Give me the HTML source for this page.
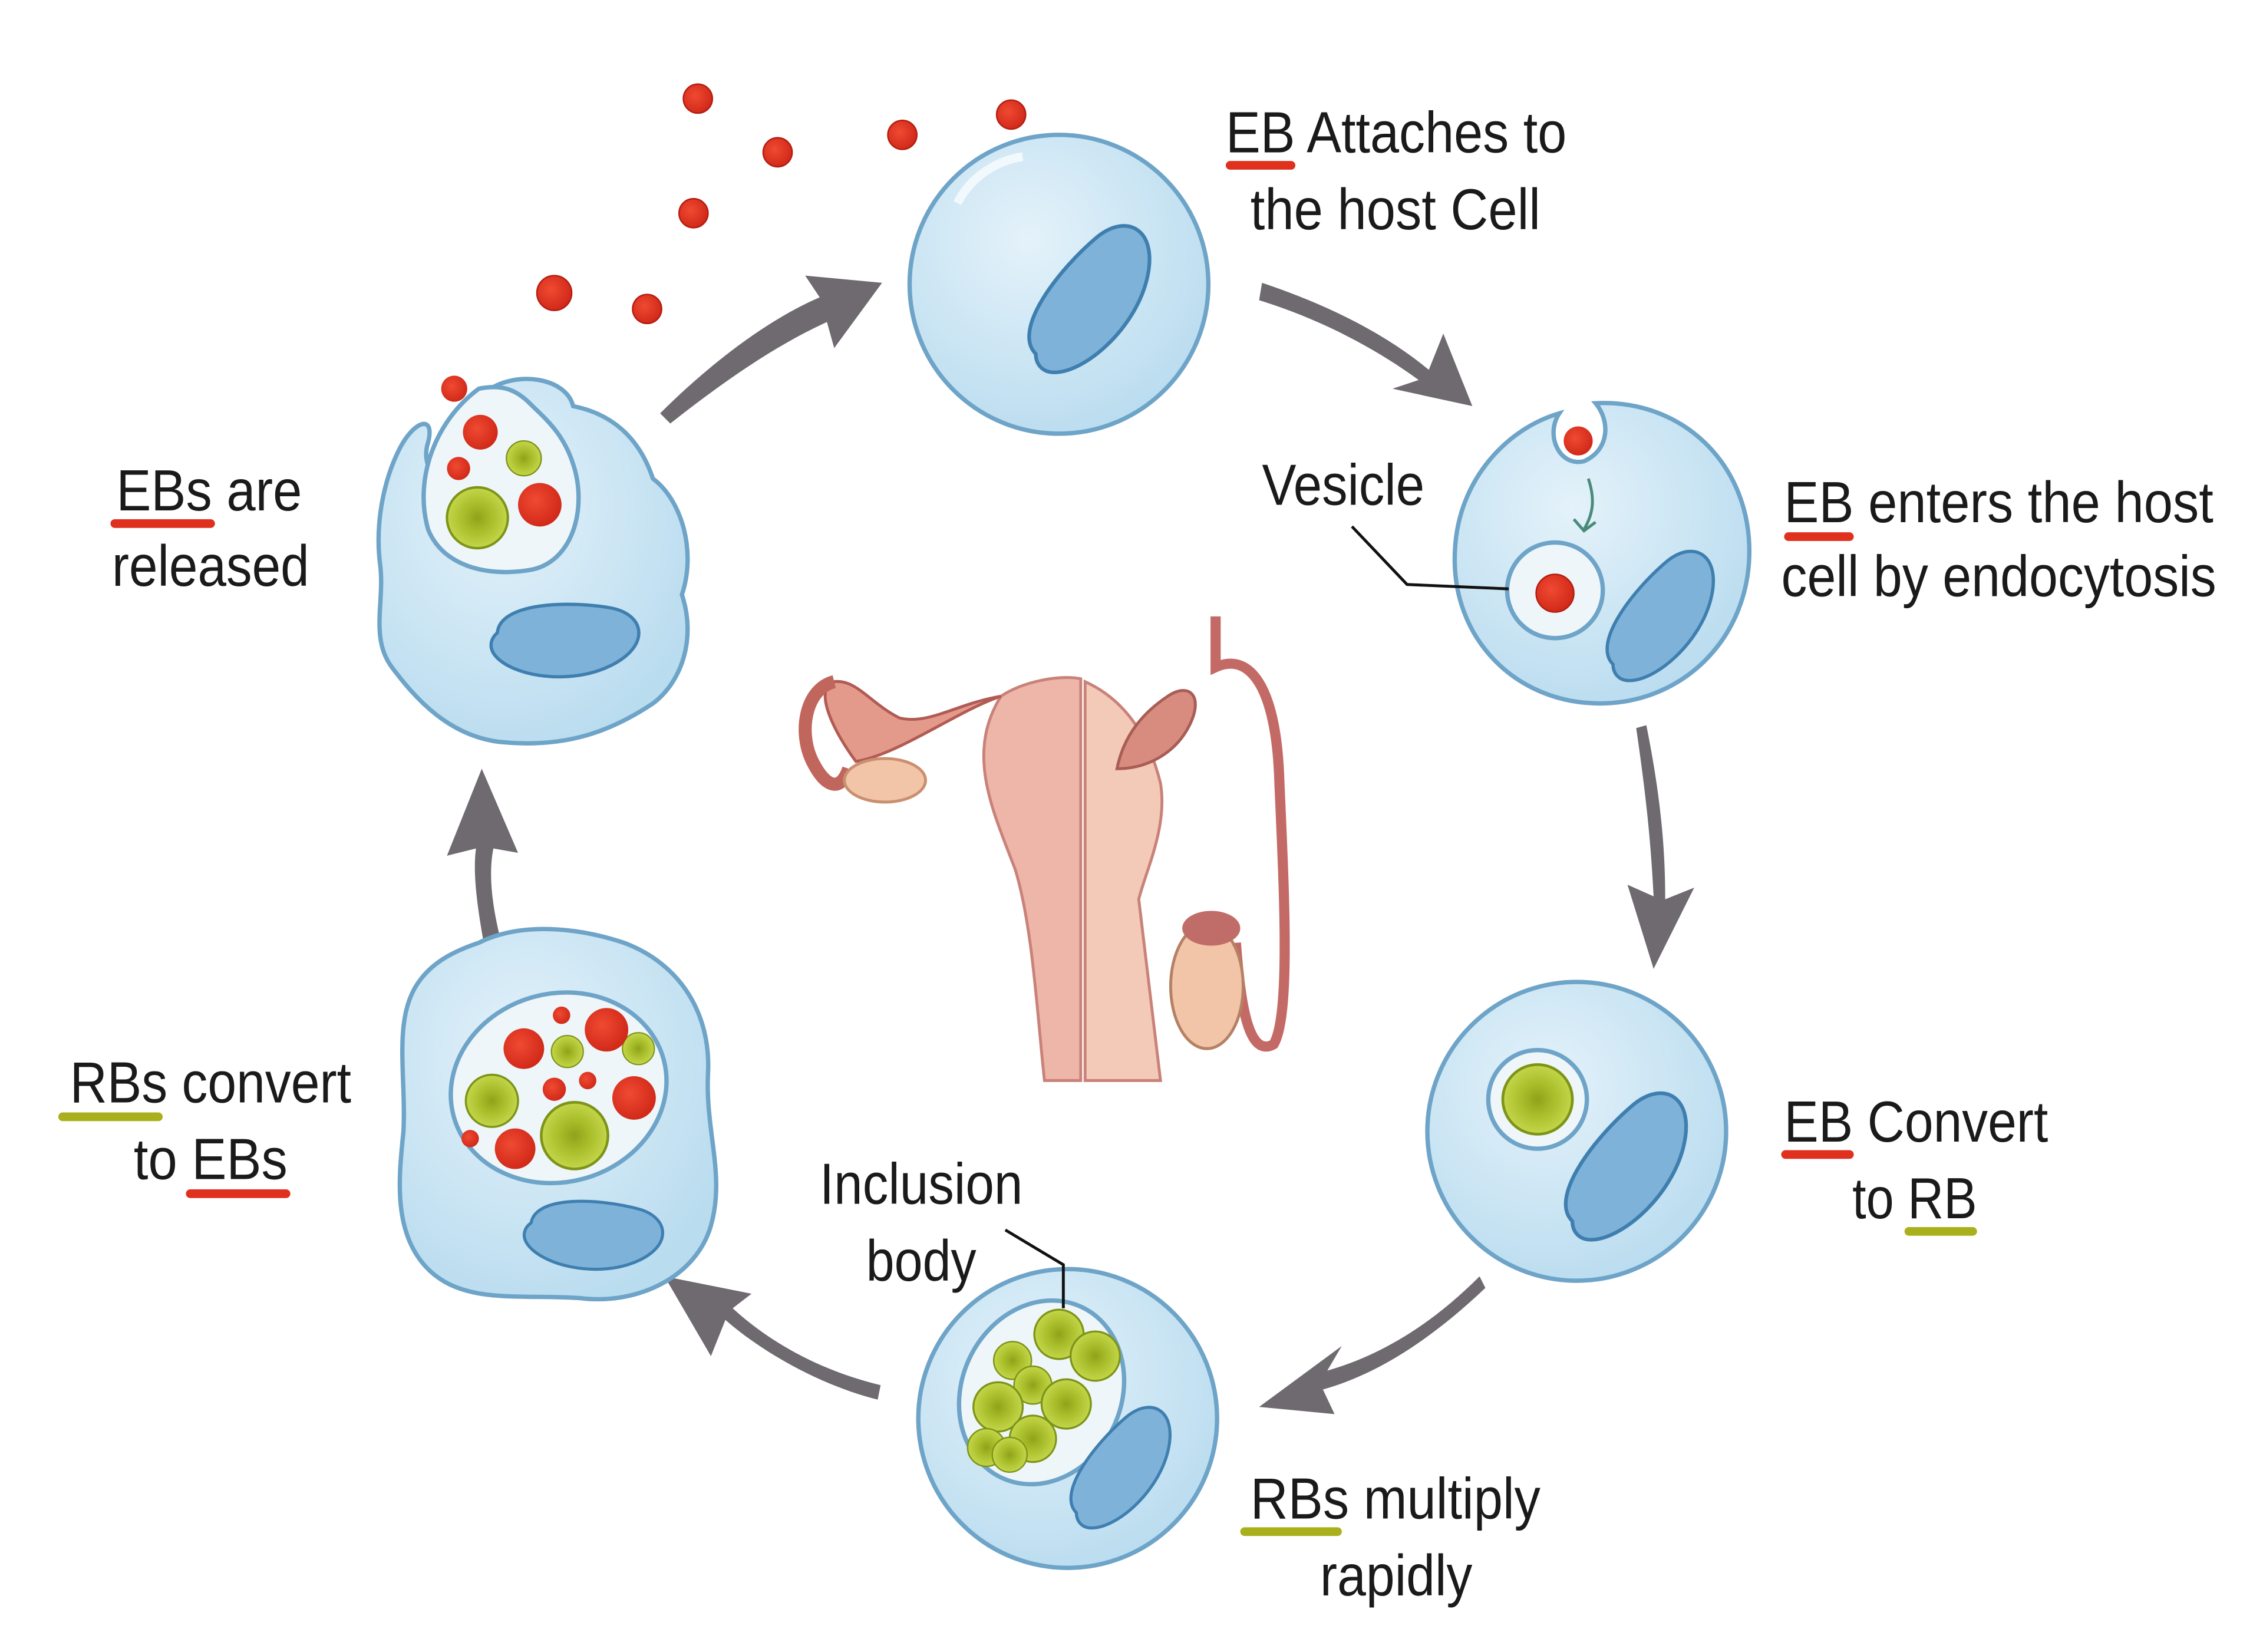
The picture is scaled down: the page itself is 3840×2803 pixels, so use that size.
<!DOCTYPE html>
<html><head><meta charset="utf-8"><style>
html,body{margin:0;padding:0;background:#fff}
svg{display:block}
text{font-family:"Liberation Sans Narrow","Liberation Sans",sans-serif;font-size:40px;fill:#1a1a1a}
</style></head><body>
<svg width="3840" height="2803" viewBox="0 0 1560 1139" xmlns="http://www.w3.org/2000/svg">
<defs>
<radialGradient id="cg" cx="0.4" cy="0.35" r="0.7"><stop offset="0" stop-color="#e4f2fa"/><stop offset="1" stop-color="#b9dcef"/></radialGradient>
<radialGradient id="gg" cx="0.5" cy="0.5" r="0.5"><stop offset="0" stop-color="#8fa21a"/><stop offset="0.45" stop-color="#a8bd2a"/><stop offset="1" stop-color="#c4d64a"/></radialGradient>
<radialGradient id="rg" cx="0.4" cy="0.4" r="0.6"><stop offset="0" stop-color="#f04a32"/><stop offset="1" stop-color="#d12a1a"/></radialGradient>
<g id="nuc"><path d="M-40,40 C-60,20 -20,-30 10,-55 C35,-75 60,-60 50,-20 C40,20 0,55 -25,55 C-35,55 -40,48 -40,40Z" fill="#7fb2d8" stroke="#3f7fb0" stroke-width="3"/></g>
<g id="rb"><circle r="1" fill="url(#gg)" stroke="#7e9418" stroke-width="0.08"/></g>
</defs>

<g fill="url(#rg)" stroke="#b51c10" stroke-width="1">
<circle cx="481" cy="68" r="10"/><circle cx="536" cy="105" r="10"/><circle cx="622" cy="93" r="10"/><circle cx="697" cy="79" r="10"/><circle cx="478" cy="147" r="10"/><circle cx="382" cy="202" r="12"/><circle cx="446" cy="213" r="10"/>
</g>

<g fill="#6e6a70">
<path d="M455,285 C490,250 530,220 565,205 L555,190 L608,195 L575,240 L570,222 C535,238 500,262 462,292Z"/>
<path d="M870,195 C915,210 955,230 985,255 L995,230 L1015,280 L960,268 L978,262 C948,240 910,220 868,207Z"/>
<path d="M1135,500 C1145,550 1148,585 1148,620 L1168,612 L1140,668 L1122,610 L1140,618 C1138,580 1135,550 1128,502Z"/>
<path d="M1020,880 C985,915 950,935 915,945 L925,928 L868,970 L920,975 L912,958 C948,948 985,925 1024,888Z"/>
<path d="M605,965 C565,955 525,932 500,910 L490,935 L458,880 L518,892 L505,902 C530,925 565,945 607,955Z"/>
<path d="M333,648 C328,620 326,600 328,585 L308,590 L332,530 L357,588 L340,585 C337,600 338,620 345,648Z"/>
</g>

<!-- top cell -->
<circle cx="730" cy="196" r="103" fill="url(#cg)" stroke="#6ea4c8" stroke-width="3"/>
<use href="#nuc" transform="translate(748,210) scale(0.85)"/>
<path d="M660,140 C670,120 690,110 705,108" stroke="#fff" stroke-width="6" fill="none" opacity="0.7"/>

<!-- right top cell -->
<path d="M1075,285 C1040,295 1005,330 1003,380 C1000,440 1045,485 1103,485 C1160,485 1206,440 1206,380 C1206,320 1160,275 1100,278 C1110,290 1110,310 1092,318 C1075,322 1065,300 1075,285Z" fill="url(#cg)" stroke="#6ea4c8" stroke-width="3"/>
<circle cx="1088" cy="304" r="10" fill="url(#rg)"/>
<path d="M1095,330 C1100,345 1098,355 1092,365 M1085,358 L1092,366 L1100,360" stroke="#4a8a7a" stroke-width="2" fill="none"/>
<circle cx="1072" cy="407" r="33" fill="#eef6fa" stroke="#6ea4c8" stroke-width="3"/>
<circle cx="1072" cy="409" r="13" fill="url(#rg)" stroke="#b51c10"/>
<use href="#nuc" transform="translate(1142,428) scale(0.75)"/>
<polyline points="932,363 970,403 1040,406" stroke="#111" stroke-width="2" fill="none"/>

<!-- right bottom cell -->
<circle cx="1087" cy="780" r="103" fill="url(#cg)" stroke="#6ea4c8" stroke-width="3"/>
<circle cx="1060" cy="758" r="34" fill="#eef6fa" stroke="#6ea4c8" stroke-width="3"/>
<use href="#rb" transform="translate(1060,758) scale(24)"/>
<use href="#nuc" transform="translate(1118,808) scale(0.85)"/>

<!-- bottom cell -->
<circle cx="736" cy="978" r="103" fill="url(#cg)" stroke="#6ea4c8" stroke-width="3"/>
<ellipse cx="718" cy="960" rx="55" ry="65" transform="rotate(25 718 960)" fill="#eef6fa" stroke="#6ea4c8" stroke-width="3"/>
<use href="#rb" transform="translate(730,920) scale(17)"/>
<use href="#rb" transform="translate(755,935) scale(17)"/>
<use href="#rb" transform="translate(698,938) scale(13)"/>
<use href="#rb" transform="translate(712,955) scale(13)"/>
<use href="#rb" transform="translate(735,968) scale(17)"/>
<use href="#rb" transform="translate(688,970) scale(17)"/>
<use href="#rb" transform="translate(712,992) scale(16)"/>
<use href="#rb" transform="translate(680,998) scale(13)"/>
<use href="#rb" transform="translate(696,1003) scale(12)"/>
<use href="#nuc" transform="translate(770,1015) scale(0.7)"/>
<polyline points="693,848 733,872 733,902" stroke="#111" stroke-width="2" fill="none"/>

<!-- left bottom cell -->
<path d="M330,650 C360,635 400,640 430,650 C470,665 490,700 488,740 C486,780 500,810 490,845 C480,880 440,900 400,895 C360,892 320,900 295,875 C270,850 275,810 278,780 C280,740 270,700 290,675 C300,662 315,655 330,650Z" fill="url(#cg)" stroke="#6ea4c8" stroke-width="3"/>
<ellipse cx="385" cy="750" rx="75" ry="65" transform="rotate(-15 385 750)" fill="#eef6fa" stroke="#6ea4c8" stroke-width="3"/>
<use href="#rb" transform="translate(396,783) scale(23)"/>
<use href="#rb" transform="translate(339,759) scale(18)"/>
<use href="#rb" transform="translate(391,725) scale(11)"/>
<use href="#rb" transform="translate(440,723) scale(11)"/>
<g fill="url(#rg)"><circle cx="361" cy="723" r="14"/><circle cx="418" cy="710" r="15"/><circle cx="437" cy="757" r="15"/><circle cx="355" cy="792" r="14"/><circle cx="382" cy="751" r="8"/><circle cx="405" cy="745" r="6"/><circle cx="387" cy="700" r="6"/><circle cx="324" cy="785" r="6"/></g>
<use href="#nuc" transform="translate(405,850) rotate(55) scale(0.7)"/>

<!-- left top cell -->
<path d="M335,270 C355,255 390,260 395,280 C420,285 440,300 450,330 C470,345 480,380 470,410 C480,440 470,470 450,485 C420,505 390,515 350,512 C310,510 285,480 270,460 C255,440 265,415 262,390 C258,360 265,330 275,310 C285,290 300,285 295,305 C290,320 300,335 310,330 C320,320 320,290 335,270Z" fill="url(#cg)" stroke="#6ea4c8" stroke-width="3"/>
<path d="M330,268 C300,290 285,330 295,365 C305,390 335,398 365,393 C395,388 405,350 395,320 C388,298 375,288 365,278 C355,268 345,265 330,268Z" fill="#eef6fa" stroke="#6ea4c8" stroke-width="3"/>
<use href="#rb" transform="translate(329,357) scale(21)"/>
<use href="#rb" transform="translate(361,316) scale(12)"/>
<g fill="url(#rg)"><circle cx="313" cy="268" r="9"/><circle cx="331" cy="298" r="12"/><circle cx="316" cy="323" r="8"/><circle cx="372" cy="348" r="15"/></g>
<use href="#nuc" transform="translate(385,440) rotate(50) scale(0.75)"/>

<!-- reproductive organs -->
<g>
<path d="M690,480 C705,470 730,465 745,468 L745,745 L720,745 C715,700 712,640 700,600 C685,560 665,520 690,480Z" fill="#eeb6a8" stroke="#c9827a" stroke-width="2"/>
<path d="M690,480 C660,490 620,520 590,525 C575,505 560,475 575,470 C590,468 600,485 620,495 C640,500 660,485 690,480Z" fill="#e49a8a" stroke="#b25b55" stroke-width="2"/>
<path d="M575,470 C555,475 550,505 560,525 C570,545 580,545 585,530" fill="none" stroke="#c0665c" stroke-width="9"/>
<ellipse cx="610" cy="538" rx="28" ry="15" fill="#f2c4a8" stroke="#c9906f" stroke-width="2"/>
<path d="M748,470 C770,480 790,500 800,540 C805,570 790,600 785,620 L800,745 L748,745Z" fill="#f3c9b8" stroke="#c9827a" stroke-width="2"/>
<path d="M770,530 C775,505 790,490 805,480 C820,470 830,480 820,500 C810,520 790,530 770,530Z" fill="#d88c80" stroke="#a85d55" stroke-width="2"/>
<path d="M838,425 L838,460 C860,450 880,470 882,540 C885,610 890,700 878,720 C860,730 855,690 852,650" fill="none" stroke="#c46a66" stroke-width="7"/>
<ellipse cx="832" cy="680" rx="25" ry="43" fill="#f2c4a8" stroke="#b58165" stroke-width="2"/>
<ellipse cx="835" cy="640" rx="20" ry="12" fill="#c06d6a"/>
</g>

<!-- labels -->
<text x="845" y="105" textLength="235" lengthAdjust="spacingAndGlyphs">EB Attaches to</text>
<text x="862" y="158" textLength="200" lengthAdjust="spacingAndGlyphs">the host Cell</text>
<rect x="845" y="111" width="48" height="6" rx="3" fill="#e0301e"/>

<text x="1230" y="360" textLength="296" lengthAdjust="spacingAndGlyphs">EB enters the host</text>
<text x="1228" y="411" textLength="300" lengthAdjust="spacingAndGlyphs">cell by endocytosis</text>
<rect x="1230" y="367" width="48" height="6" rx="3" fill="#e0301e"/>

<text x="870" y="348" textLength="112" lengthAdjust="spacingAndGlyphs">Vesicle</text>

<text x="1230" y="787" textLength="182" lengthAdjust="spacingAndGlyphs">EB Convert</text>
<text x="1277" y="840" textLength="86" lengthAdjust="spacingAndGlyphs">to RB</text>
<rect x="1228" y="793" width="50" height="6" rx="3" fill="#e0301e"/>
<rect x="1313" y="846" width="50" height="6" rx="3" fill="#a8b01c"/>

<text x="862" y="1047" textLength="200" lengthAdjust="spacingAndGlyphs">RBs multiply</text>
<text x="910" y="1100" textLength="105" lengthAdjust="spacingAndGlyphs">rapidly</text>
<rect x="855" y="1053" width="70" height="6" rx="3" fill="#a8b01c"/>

<text x="565" y="830" textLength="140" lengthAdjust="spacingAndGlyphs">Inclusion</text>
<text x="597" y="883" textLength="76" lengthAdjust="spacingAndGlyphs">body</text>

<text x="48" y="760" textLength="194" lengthAdjust="spacingAndGlyphs">RBs convert</text>
<text x="92" y="813" textLength="106" lengthAdjust="spacingAndGlyphs">to EBs</text>
<rect x="40" y="767" width="72" height="6" rx="3" fill="#a8b01c"/>
<rect x="128" y="820" width="72" height="6" rx="3" fill="#e0301e"/>

<text x="80" y="352" textLength="128" lengthAdjust="spacingAndGlyphs">EBs are</text>
<text x="77" y="404" textLength="136" lengthAdjust="spacingAndGlyphs">released</text>
<rect x="76" y="358" width="72" height="6" rx="3" fill="#e0301e"/>
</svg>
</body></html>
